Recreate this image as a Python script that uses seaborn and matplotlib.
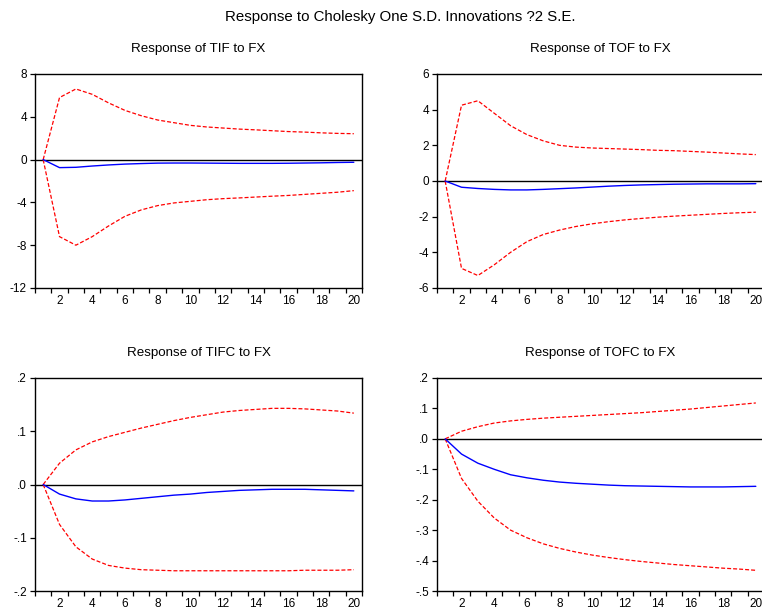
import matplotlib
matplotlib.use("Agg")
import matplotlib.pyplot as plt
import seaborn as sns
import numpy as np
import pandas as pd
from matplotlib.ticker import FixedLocator

# ---------------- data ----------------
periods = list(range(1, 21))

tif_resp = [0, -0.75, -0.72, -0.6, -0.5, -0.42, -0.37, -0.33, -0.32, -0.32,
            -0.33, -0.34, -0.35, -0.35, -0.35, -0.34, -0.32, -0.30, -0.27, -0.25]
tif_upper = [0, 5.8, 6.6, 6.1, 5.3, 4.6, 4.1, 3.7, 3.45, 3.2,
             3.05, 2.95, 2.85, 2.78, 2.7, 2.62, 2.57, 2.5, 2.45, 2.42]
tif_lower = [0, -7.2, -8.0, -7.2, -6.2, -5.3, -4.7, -4.3, -4.05, -3.9,
             -3.75, -3.65, -3.58, -3.5, -3.42, -3.35, -3.25, -3.15, -3.05, -2.9]

tof_resp = [0, -0.35, -0.42, -0.47, -0.5, -0.5, -0.47, -0.43, -0.39, -0.34,
            -0.29, -0.25, -0.22, -0.2, -0.18, -0.17, -0.16, -0.16, -0.16, -0.15]
tof_upper = [0, 4.25, 4.5, 3.8, 3.1, 2.6, 2.25, 2.0, 1.9, 1.85,
             1.82, 1.79, 1.76, 1.72, 1.7, 1.66, 1.62, 1.57, 1.52, 1.48]
tof_lower = [0, -4.9, -5.3, -4.7, -4.0, -3.4, -3.0, -2.75, -2.55, -2.4,
             -2.28, -2.18, -2.1, -2.03, -1.97, -1.92, -1.87, -1.82, -1.78, -1.75]

tifc_resp = [0, -0.018, -0.027, -0.031, -0.031, -0.029, -0.026, -0.023, -0.02, -0.018,
             -0.015, -0.013, -0.011, -0.01, -0.009, -0.009, -0.009, -0.01, -0.011, -0.012]
tifc_upper = [0, 0.04, 0.065, 0.08, 0.09, 0.098, 0.106, 0.113, 0.12, 0.126,
              0.131, 0.136, 0.139, 0.141, 0.143, 0.143, 0.142, 0.14, 0.138, 0.134]
tifc_lower = [0, -0.075, -0.117, -0.14, -0.152, -0.157, -0.16, -0.161, -0.162, -0.162,
              -0.162, -0.162, -0.162, -0.162, -0.162, -0.162, -0.161, -0.161, -0.161, -0.16]

tofc_resp = [0, -0.05, -0.08, -0.1, -0.118, -0.128, -0.136, -0.142, -0.146, -0.149,
             -0.152, -0.154, -0.155, -0.156, -0.157, -0.158, -0.158, -0.158, -0.157, -0.156]
tofc_upper = [0, 0.025, 0.04, 0.052, 0.059, 0.064, 0.068, 0.071, 0.074, 0.077,
              0.08, 0.083, 0.086, 0.09, 0.094, 0.098, 0.103, 0.108, 0.113, 0.118]
tofc_lower = [0, -0.13, -0.205, -0.26, -0.3, -0.325, -0.345, -0.36, -0.372, -0.382,
              -0.39, -0.397, -0.403, -0.408, -0.413, -0.417, -0.421, -0.425, -0.428, -0.432]

titles = ["Response of TIF to FX", "Response of TOF to FX",
          "Response of TIFC to FX", "Response of TOFC to FX"]
main_title = "Response to Cholesky One S.D. Innovations ?2 S.E."

x_tick_vals = [2, 4, 6, 8, 10, 12, 14, 16, 18, 20]
x_tick_labels = ["2", "4", "6", "8", "10", "12", "14", "16", "18", "20"]

tif_yticks = [-12, -8, -4, 0, 4, 8]
tif_ylabels = ["-12", "-8", "-4", "0", "4", "8"]
tof_yticks = [-6, -4, -2, 0, 2, 4, 6]
tof_ylabels = ["-6", "-4", "-2", "0", "2", "4", "6"]
tifc_yticks = [-0.2, -0.1, 0.0, 0.1, 0.2]
tifc_ylabels = ["-.2", "-.1", ".0", ".1", ".2"]
tofc_yticks = [-0.5, -0.4, -0.3, -0.2, -0.1, 0.0, 0.1, 0.2]
tofc_ylabels = ["-.5", "-.4", "-.3", "-.2", "-.1", ".0", ".1", ".2"]

# ---------------- style ----------------
sns.set_style("white")
plt.rcParams["font.family"] = ["Liberation Sans", "DejaVu Sans"]

W, H = 762, 611
fig = plt.figure(figsize=(W / 100, H / 100), dpi=100)

def px_axes(left, top, right, bottom):
    return fig.add_axes([left / W, 1 - bottom / H, (right - left) / W, (bottom - top) / H])

panels = [
    (px_axes(35, 74, 362, 288), tif_resp, tif_upper, tif_lower, tif_yticks, tif_ylabels, titles[0]),
    (px_axes(437, 74, 764, 288), tof_resp, tof_upper, tof_lower, tof_yticks, tof_ylabels, titles[1]),
    (px_axes(35, 378, 362, 591), tifc_resp, tifc_upper, tifc_lower, tifc_yticks, tifc_ylabels, titles[2]),
    (px_axes(437, 378, 764, 591), tofc_resp, tofc_upper, tofc_lower, tofc_yticks, tofc_ylabels, titles[3]),
]

red = "#ff0000"
blue = "#0000ff"
dash = (0, (3.2, 1.6))

for ax, resp, up, lo, yt, yl, ttl in panels:
    ax.axhline(0, color="black", lw=1.0, zorder=1)
    sns.lineplot(x=periods, y=up, ax=ax, color=red, lw=0.9, linestyle=dash, zorder=3)
    sns.lineplot(x=periods, y=lo, ax=ax, color=red, lw=0.9, linestyle=dash, zorder=3)
    sns.lineplot(x=periods, y=resp, ax=ax, color=blue, lw=1.0, zorder=4)
    ax.set_xlim(0.5, 20.5)
    ax.set_ylim(yt[0], yt[-1])
    ax.set_yticks(yt)
    ax.set_yticklabels(yl)
    ax.set_xticks(x_tick_vals)
    ax.set_xticklabels(x_tick_labels)
    ax.xaxis.set_minor_locator(FixedLocator(np.arange(0.5, 21, 1.0)))
    ax.tick_params(axis="x", which="major", length=0, pad=5, labelsize=8.5, colors="black")
    ax.tick_params(axis="x", which="minor", length=3.8, width=0.9, direction="out",
                   bottom=True, color="black")
    ax.tick_params(axis="y", which="major", length=3.8, width=0.9, direction="out",
                   left=True, pad=2, labelsize=8.5, colors="black")
    for s in ax.spines.values():
        s.set_color("black")
        s.set_linewidth(1.0)
        s.set_visible(True)
    ax.set_xlabel("")
    ax.set_ylabel("")
    ax.set_title(ttl, fontsize=9.6, pad=15.5, color="black")

fig.text(400 / W, 1 - 17 / H, main_title, ha="center", va="center", fontsize=10.8, color="black")

fig.savefig("out.png", dpi=100)
